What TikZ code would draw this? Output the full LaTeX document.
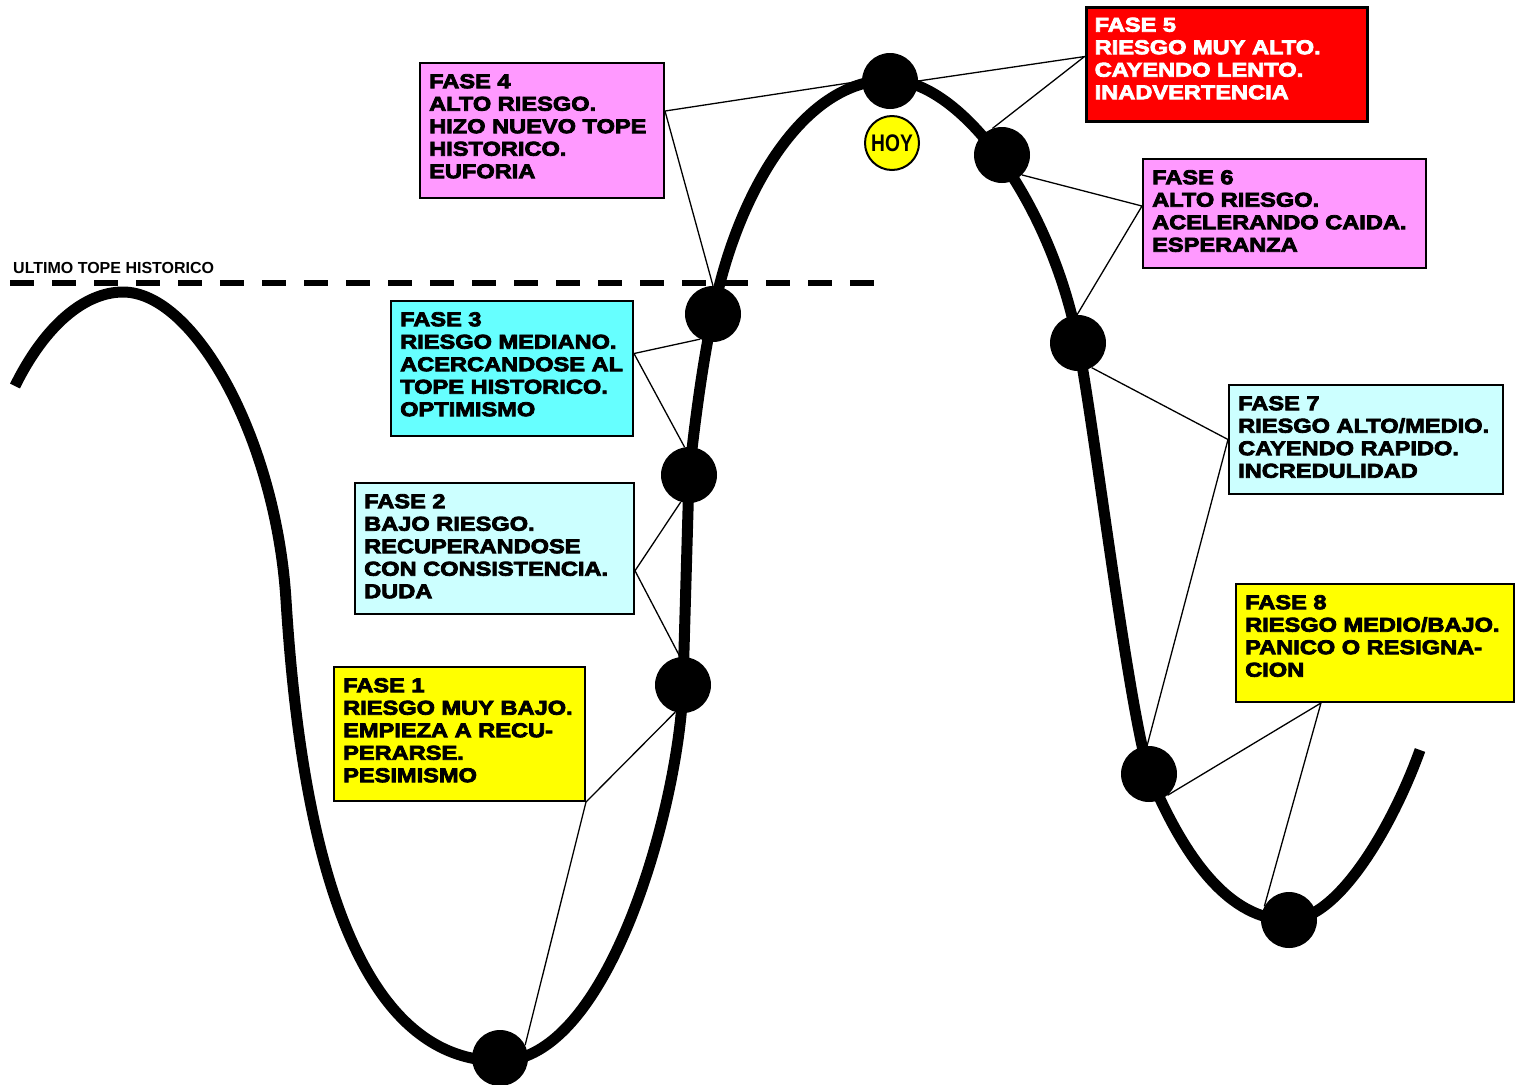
\documentclass[tikz,border=0pt]{standalone}
\usepackage{fontspec}
\usepackage{tikz}
\newfontfamily\fasefont{Liberation Sans}[FakeStretch=1.18,BoldFeatures={FakeBold=4}]
\newfontfamily\hoyfont{Liberation Sans}[FakeStretch=0.8]
\newfontfamily\topefont{Liberation Sans}
\definecolor{rosa}{HTML}{FF99FF}
\definecolor{rojo}{HTML}{FF0000}
\definecolor{cian}{HTML}{66FFFF}
\definecolor{celeste}{HTML}{CCFFFF}
\definecolor{amarillo}{HTML}{FFFF00}

\begin{document}
\begin{tikzpicture}[x=1pt,y=-1pt,
    curva/.style={line width=11pt},
    punto/.style={circle,fill=black,inner sep=0pt,minimum size=56pt},
    fasebox/.style={draw=black,line width=2pt,inner sep=0pt},
    fasetext/.style={anchor=north west,inner xsep=10pt,inner ysep=12pt,align=left,
        font=\fasefont\bfseries\fontsize{20}{22.5}\selectfont},
    conector/.style={line width=1.3pt}]
    \useasboundingbox (0,0) rectangle (1519,1085);

    % ultimo tope
    \node[anchor=base west,inner sep=0pt,font=\topefont\bfseries\fontsize{16}{18}\selectfont] (tope) at (13,273) {ULTIMO TOPE HISTORICO};
    \draw[line width=6pt,dash pattern=on 24pt off 18pt] (10,283) -- (875,283);

    % ciclo
    \draw[curva] (15,386) .. controls (45,325) and (85,292) .. (123,292)
        .. controls (195,292) and (276,440) .. (286,600)
        .. controls (298.5,800) and (340,1061) .. (500,1061)
        .. controls (610,1061) and (680,800) .. (683,685)
        -- (689,476)
        .. controls (695,420) and (703,360) .. (713,314)
        .. controls (735,200) and (800,80) .. (890,80)
        .. controls (960,80) and (1050,200) .. (1078,343)
        .. controls (1095,430) and (1127,700) .. (1149,774)
        .. controls (1185,860) and (1230,920) .. (1289,920)
        .. controls (1340,920) and (1395,820) .. (1420,750);

    \node[punto] (p1) at (500,1058) {};
    \node[punto] (p2) at (683,685) {};
    \node[punto] (p3) at (689,475) {};
    \node[punto] (p4) at (713,314) {};
    \node[punto] (p5) at (890,81) {};
    \node[punto] (p6) at (1002,155) {};
    \node[punto] (p7) at (1078,343) {};
    \node[punto] (p8) at (1149,774) {};
    \node[punto] (p9) at (1289,920) {};

    \node[circle,draw=black,line width=2pt,fill=amarillo,minimum size=54pt,inner sep=0pt,
        font=\hoyfont\bfseries\fontsize{24}{26}\selectfont] (hoy) at (892,143) {HOY};

    % cajas
    \node[fasebox,fill=amarillo,minimum width=251,minimum height=134] (f1) at (459.5,734) {};
    \node[fasebox,fill=celeste,minimum width=279,minimum height=131] (f2) at (494.5,548.5) {};
    \node[fasebox,fill=cian,minimum width=242,minimum height=135] (f3) at (512,368.5) {};
    \node[fasebox,fill=rosa,minimum width=244,minimum height=135] (f4) at (542,130.5) {};
    \node[fasebox,fill=rojo,line width=3pt,minimum width=281,minimum height=114] (f5) at (1226.5,64) {};
    \node[fasebox,fill=rosa,minimum width=283,minimum height=109] (f6) at (1284.5,213.5) {};
    \node[fasebox,fill=celeste,minimum width=274,minimum height=109] (f7) at (1366,439.5) {};
    \node[fasebox,fill=amarillo,minimum width=278,minimum height=118] (f8) at (1375,643) {};

    \node[fasetext] (t1) at (f1.north west) {FASE 1\\RIESGO MUY BAJO.\\EMPIEZA A RECU-\\PERARSE.\\PESIMISMO};
    \node[fasetext] (t2) at (f2.north west) {FASE 2\\BAJO RIESGO.\\RECUPERANDOSE\\CON CONSISTENCIA.\\DUDA};
    \node[fasetext] (t3) at (f3.north west) {FASE 3\\RIESGO MEDIANO.\\ACERCANDOSE AL\\TOPE HISTORICO.\\OPTIMISMO};
    \node[fasetext] (t4) at (f4.north west) {FASE 4\\ALTO RIESGO.\\HIZO NUEVO TOPE\\HISTORICO.\\EUFORIA};
    \node[fasetext,text=white] (t5) at (f5.north west) {FASE 5\\RIESGO MUY ALTO.\\CAYENDO LENTO.\\INADVERTENCIA};
    \node[fasetext] (t6) at (f6.north west) {FASE 6\\ALTO RIESGO.\\ACELERANDO CAIDA.\\ESPERANZA};
    \node[fasetext] (t7) at (f7.north west) {FASE 7\\RIESGO ALTO/MEDIO.\\CAYENDO RAPIDO.\\INCREDULIDAD};
    \node[fasetext] (t8) at (f8.north west) {FASE 8\\RIESGO MEDIO/BAJO.\\PANICO O RESIGNA-\\CION};

    % conectores
    \draw[conector] (p1.27) -- (f1.south east) -- (p2.254);
    \draw[conector] (p2.96) -- (f2.-9) -- (p3.253);
    \draw[conector] (p3.99) -- (f3.7) -- (p4.243);
    \draw[conector] (p4.90) -- (f4.9.5) -- (p5.180);
    \draw[conector] (p5.0) -- (f5.177) -- (p6.110);
    \draw[conector] (p6.-45) -- (f6.177) -- (p7.92);
    \draw[conector] (p7.-61) -- (f7.west) -- (p8.94);
    \draw[conector] (p8.-49) -- (f8.-132) -- (p9.151);
\end{tikzpicture}
\end{document}
